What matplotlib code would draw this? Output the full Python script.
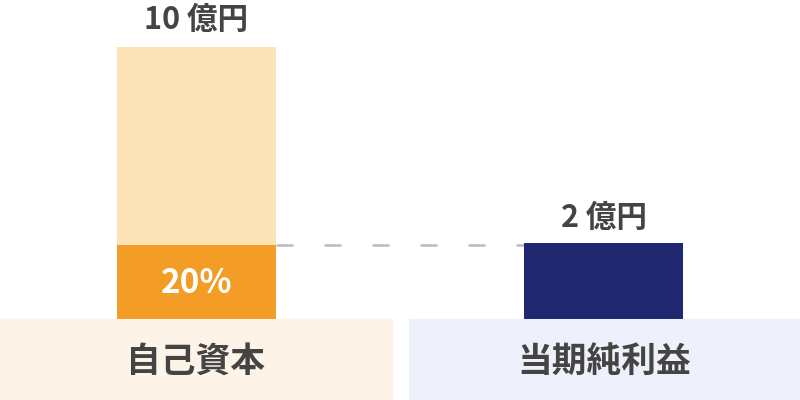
import matplotlib.pyplot as plt
from matplotlib.patches import Rectangle

plt.rcParams['font.family'] = ['Noto Sans CJK JP', 'DejaVu Sans']

# データ（描画上の高さは図から読み取った値）
categories = ['自己資本', '当期純利益']
equity_height = 10.0      # 自己資本 10 億円
equity_part = 2.72        # うち 20% 部分（図上の高さ）
profit_height = 2.8       # 当期純利益 2 億円（図上の高さ）
value_labels = ['10 億円', '2 億円']
part_label = '20%'

fig = plt.figure(figsize=(8, 4), dpi=100)
ax = fig.add_axes([0, 0, 1, 1])
ax.set_xlim(-0.4828, 1.4828)
ax.set_ylim(-2.978, 11.728)
ax.axis('off')

w = 0.393
# 自己資本の棒
ax.bar(0, equity_height, width=w, color='#FCE3B7', zorder=2)
ax.bar(0, equity_part, width=w, color='#F39C26', zorder=3)
# 当期純利益の棒
ax.bar(1, profit_height, width=w, color='#1F2870', zorder=3)

# 点線
ax.plot([w / 2, 1 - w / 2], [equity_part, equity_part], color='#BBBBBB', lw=1.8,
        dashes=(6.8, 12.4), zorder=1)

# 値ラベル
ax.text(0, equity_height + 0.98, value_labels[0], ha='center', va='center',
        fontsize=22, color='#444444', fontweight='bold')
ax.text(1, profit_height + 0.92, value_labels[1], ha='center', va='center',
        fontsize=22, color='#444444', fontweight='bold')
ax.text(0, equity_part / 2 - 0.05, part_label, ha='center', va='center',
        fontsize=24, color='white', fontweight='bold')

# カテゴリの背景ボックス
box_colors = ['#FEF3E7', '#EEF0FB']
box_spans = [(-0.4828, 0.480), (0.522, 1.4828)]
for (x0, x1), c, name in zip(box_spans, box_colors, categories):
    ax.add_patch(Rectangle((x0, -2.978), x1 - x0, 2.978, color=c, zorder=1))
    ax.text((x0 + x1) / 2, -1.55, name, ha='center', va='center',
            fontsize=25, color='#444444', fontweight='bold')

plt.savefig('out.png', dpi=100)
